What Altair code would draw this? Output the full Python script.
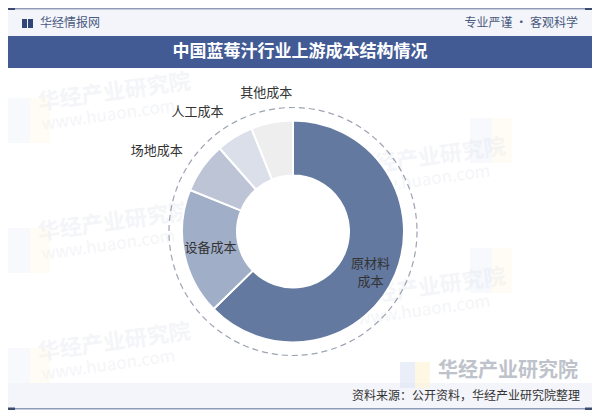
import altair as alt
import pandas as pd
import math

categories = ["原材料成本", "设备成本", "场地成本", "人工成本", "其他成本"]
labels = ["原材料\n成本", "设备成本", "场地成本", "人工成本", "其他成本"]
shares = [62.7, 18.4, 7.4, 5.4, 6.1]
colors = ["#6379a0", "#a0aec8", "#bcc4d6", "#dadfe9", "#eeeeee"]
placement = ["inside", "inside", "outside", "outside", "top"]

title = "中国蓝莓汁行业上游成本结构情况"
brand = "华经情报网"
motto = "专业严谨 • 客观科学"
source = "资料来源：公开资料，华经产业研究院整理"
wm_cn = "华经产业研究院"
wm_en = "www.huaon.com"

W, H = 584, 402
CX, CY = 285, 223.5
FONT = "Noto Sans CJK SC"

df = pd.DataFrame({
    "cat": categories, "label": labels, "share": shares,
    "order": list(range(len(categories))), "place": placement,
})

base = alt.Chart(df).transform_window(
    cum="sum(share)", sort=[alt.SortField("order")]
).transform_joinaggregate(total="sum(share)").transform_calculate(
    t0="(datum.cum - datum.share) / datum.total",
    t1="datum.cum / datum.total",
    tm="(datum.cum - datum.share / 2) / datum.total",
)

theta_scale = alt.Scale(domain=[0, 1], range=[0, 2 * math.pi])
color_scale = alt.Scale(domain=categories, range=colors)

arcs = base.mark_arc(radius=111, radius2=56, stroke="white", strokeWidth=2).encode(
    theta=alt.Theta("t0:Q", scale=theta_scale),
    theta2="t1:Q",
    color=alt.Color("cat:N", scale=color_scale, legend=None),
    x=alt.value(CX), y=alt.value(CY),
)

def label_layer(place, radius, align, dx=0):
    return base.transform_filter(alt.datum.place == place).mark_text(
        radius=radius, align=align, baseline="middle", dx=dx,
        font=FONT, fontSize=13, color="#333333", lineBreak="\n", lineHeight=18,
    ).encode(
        theta=alt.Theta("tm:Q", scale=theta_scale),
        text="label:N",
        x=alt.value(CX), y=alt.value(CY),
    )

lab_in = label_layer("inside", 84, "center")
lab_out = label_layer("outside", 140, "right", 4)
lab_top = label_layer("top", 141, "center")

one = pd.DataFrame({"k": [0]})
deco = alt.Chart(one)

ring = deco.mark_point(shape="circle", filled=False, size=248 * 248,
                       stroke="#737d93", strokeWidth=1.2, strokeDash=[6, 4]).encode(
    x=alt.value(CX), y=alt.value(CY))

def rect(x1, x2, y1, y2, color, opacity=1.0):
    return deco.mark_rect(color=color, opacity=opacity).encode(
        x=alt.value(x1), x2=alt.value(x2), y=alt.value(y1), y2=alt.value(y2))

def txt(s, x, y, size, color, align="left", weight="normal", opacity=1.0, angle=0, font=FONT):
    return deco.mark_text(text=s, align=align, baseline="middle", fontSize=size,
                          color=color, fontWeight=weight, opacity=opacity,
                          angle=angle, font=font).encode(x=alt.value(x), y=alt.value(y))

# watermarks
wms = []
for (wx, wy) in [(30, 95), (30, 225), (30, 345), (345, 160), (345, 290)]:
    wms.append(txt(wm_cn, wx, wy, 22, "#d4d9e4", weight="bold", opacity=0.25, angle=352))
    wms.append(txt(wm_en, wx + 4, wy + 22, 17, "#d4d9e4", opacity=0.25, angle=352))
for (wx, wy) in [(0, 120), (0, 250), (0, 370), (462, 140), (462, 270)]:
    wms.append(rect(wx, wx + 22, wy - 30, wy + 15, "#dfe7f7", 0.25))
    wms.append(rect(wx + 22, wx + 42, wy - 30, wy + 15, "#fdf3d9", 0.25))

header = [
    rect(0, W, 0, 1.6, "#8d99b6"),
    rect(0, 7, 0, 2, "#3b4a6e"),
    rect(W - 7, W, 0, 2, "#3b4a6e"),
    rect(0, W, 2, 28, "#f3f5fa"),
    rect(14, 19, 11, 20, "#2f4677"),
    rect(20, 25, 11, 20, "#2f4677"),
    txt(brand, 32, 15, 12, "#4a5a80"),
    txt(motto, 570, 15, 12, "#4a5a80", align="right"),
    rect(0, W, 28, 60, "#435b95"),
    txt(title, W / 2, 44, 17, "white", align="center", weight="bold"),
]

footer = [
    rect(0, W, 375, 400, "#f3f5fa"),
    rect(0, W, 400, 401.6, "#8d99b6"),
    rect(0, 7, 399.5, 402, "#3b4a6e"),
    rect(W - 7, W, 399.5, 402, "#3b4a6e"),
    rect(392, 407, 354, 380, "#dfe7f7", 0.7),
    rect(407, 422, 354, 380, "#fdf3d9", 0.7),
    txt(wm_cn, 570, 363, 20, "#aeb3bd", align="right", weight="bold", opacity=0.8),
    txt(source, 572, 388, 12, "#333333", align="right"),
]

chart = alt.layer(
    *wms, ring, arcs, lab_in, lab_out, lab_top, *header, *footer
).properties(
    width=W, height=H, autosize=alt.AutoSizeParams(type="none"), padding=0,
    background="white",
).configure_view(stroke=None)

chart.save("out.html", embed_options={"renderer": "svg", "actions": False})
